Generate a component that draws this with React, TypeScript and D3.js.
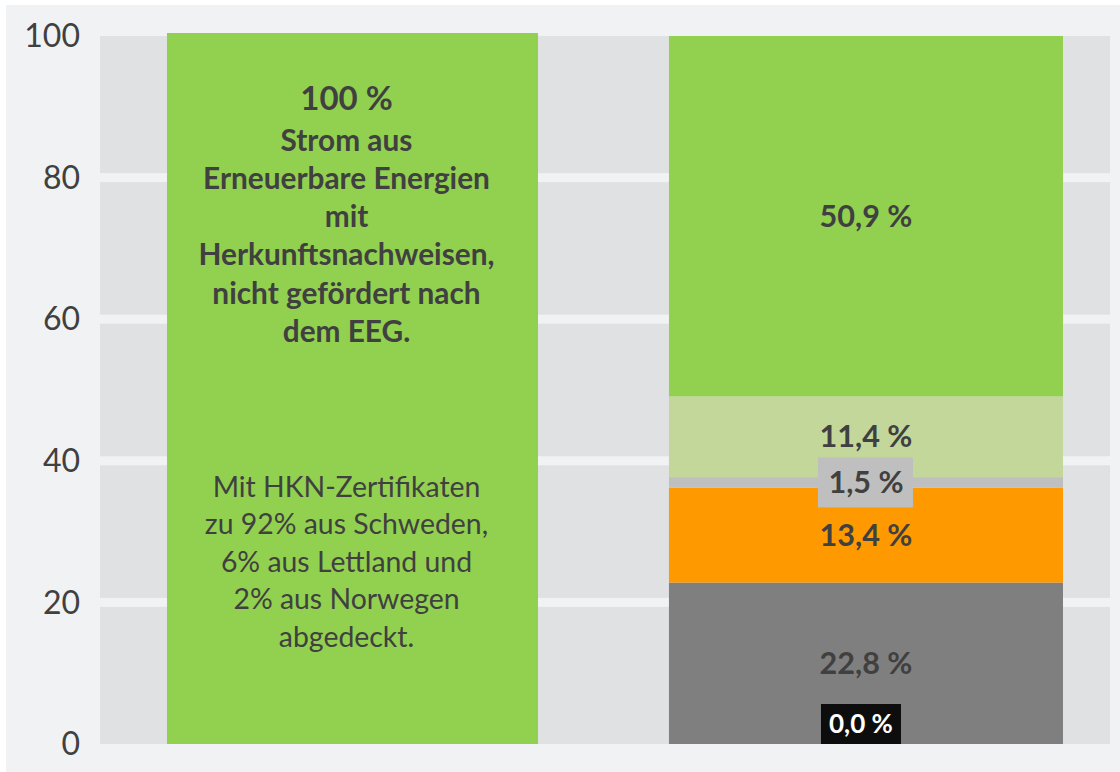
import React from "react";
import * as d3 from "d3";

const categories = ["Ökostrom", "Strommix"];
const leftBarValue = [100];
const segmentKeys = ["Sonstige", "Kohle", "Kernkraft", "Erdgas", "EE gefördert", "EE sonstige"];
const segmentValues = [0.0, 22.8, 13.4, 1.5, 11.4, 50.9];
const segmentColors = ["#0d0d0d", "#7f7f7f", "#ff9900", "#bfbfbf", "#c4d79b", "#92d050"];
const yTicks = [0, 20, 40, 60, 80, 100];
const leftTitle = ["100 %"];
const leftBoldLines = ["Strom aus", "Erneuerbare Energien", "mit", "Herkunftsnachweisen,", "nicht gefördert nach", "dem EEG."];
const leftNormalLines = ["Mit HKN-Zertifikaten", "zu 92% aus Schweden,", "6% aus Lettland und", "2% aus Norwegen", "abgedeckt."];

// style: per-bar horizontal inset (left, right) relative to the band
const barInsets = [
  [5.5, 5.5],
  [-6, -6],
];

const W = 1120;
const H = 772;
const FONT = "Lato, 'Open Sans', sans-serif";
const TEXT = "#404040";

const locale = d3.formatLocale({ decimal: ",", thousands: ".", grouping: [3], currency: ["", " €"] });
const fmt = (v: number) => locale.format(".1f")(v) + " %";

export default function App() {
  const plot = { left: 100, right: 1110, top: 36, bottom: 744 };
  const y = d3.scaleLinear().domain([0, 100]).range([plot.bottom, plot.top]);
  const x = d3
    .scaleBand<string>()
    .domain(categories)
    .range([plot.left, plot.right])
    .paddingInner(0.256)
    .paddingOuter(0.1115)
    .align(0.537);
  const bw = x.bandwidth();
  const ends = d3.cumsum(segmentValues);
  const segs = segmentValues.map((v, i) => ({
    key: segmentKeys[i],
    value: v,
    color: segmentColors[i],
    y0: ends[i] - v,
    y1: ends[i],
  }));
  const x0 = x(categories[0])! + barInsets[0][0];
  const w0 = bw - barInsets[0][0] - barInsets[0][1];
  const x1 = x(categories[1])! + barInsets[1][0];
  const w1 = bw - barInsets[1][0] - barInsets[1][1];
  const cx0 = x0 + w0 / 2 - 6;
  const cx1 = x1 + w1 / 2;

  return (
    <div style={{ position: "absolute", left: 0, top: 0 }}>
      <svg width={W} height={H} style={{ display: "block" }}>
        <rect x={0} y={0} width={W} height={H} fill="#ffffff" />
        <rect x={6} y={5} width={W - 6} height={H - 5} fill="#f1f2f4" />
        <rect x={plot.left} y={plot.top} width={plot.right - plot.left} height={plot.bottom - plot.top} fill="#e0e1e3" />
        {yTicks.slice(1, -1).map((t) => (
          <rect key={"g" + t} x={plot.left} y={y(t) - 4.5} width={plot.right - plot.left} height={9} fill="#f1f2f4" />
        ))}
        {yTicks.map((t) => (
          <text
            key={"t" + t}
            x={80}
            y={y(t)}
            dy="0.35em"
            textAnchor="end"
            fontFamily={FONT}
            fontSize={32}
            fill={TEXT}
          >
            {t}
          </text>
        ))}
        {/* left bar */}
        <rect x={x0} y={y(leftBarValue[0]) - 3} width={w0} height={y(0) - y(leftBarValue[0]) + 3} fill="#92d050" />
        <text x={cx0} y={110} textAnchor="middle" fontFamily={FONT} fontWeight="bold" fontSize={33} fill={TEXT}>
          {leftTitle[0]}
        </text>
        {leftBoldLines.map((l, i) => (
          <text key={"b" + i} x={cx0} y={150.7 + i * 38.2} textAnchor="middle" fontFamily={FONT} fontWeight="bold" fontSize={29.8} fill={TEXT}>
            {l}
          </text>
        ))}
        {leftNormalLines.map((l, i) => (
          <text key={"n" + i} x={cx0} y={496.7 + i * 37.5} textAnchor="middle" fontFamily={FONT} fontSize={28.4} fill={TEXT}>
            {l}
          </text>
        ))}
        {/* right stacked bar */}
        {segs.map((s) => (
          <rect key={s.key} x={x1} y={y(s.y1)} width={w1} height={y(s.y0) - y(s.y1)} fill={s.color} />
        ))}
        {segs.map((s, i) => {
          if (i === 0) {
            return (
              <g key={"l" + s.key}>
                <rect x={cx1 - 45} y={y(0) - 40} width={80} height={40} fill={s.color} />
                <text x={cx1 - 5} y={y(0) - 20} dy="0.35em" textAnchor="middle" fontFamily={FONT} fontWeight="bold" fontSize={26} fill="#ffffff">
                  {fmt(s.value)}
                </text>
              </g>
            );
          }
          const my = y((s.y0 + s.y1) / 2);
          return (
            <g key={"l" + s.key}>
              {s.value < 5 && <rect x={cx1 - 48} y={my - 25} width={95} height={50} fill={s.color} />}
              <text x={cx1} y={my} dy="0.35em" textAnchor="middle" fontFamily={FONT} fontWeight="bold" fontSize={30.6} fill={TEXT}>
                {fmt(s.value)}
              </text>
            </g>
          );
        })}
      </svg>
    </div>
  );
}
